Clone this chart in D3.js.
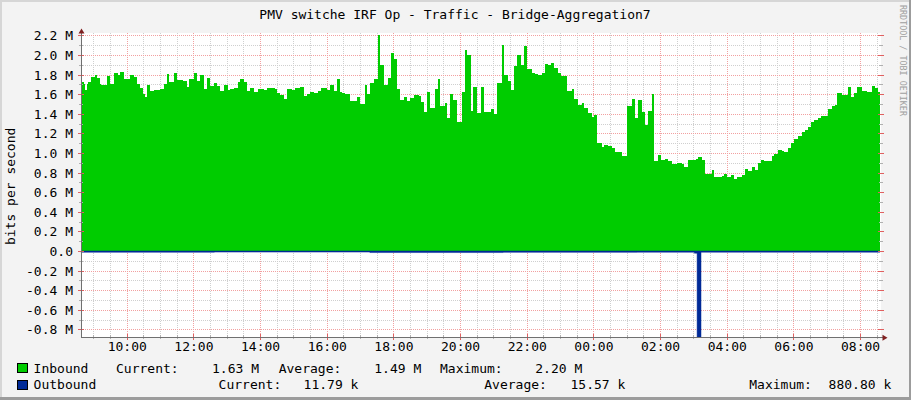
<!DOCTYPE html>
<html>
<head>
<meta charset="utf-8">
<script src="https://cdn.jsdelivr.net/npm/d3@7"></script>
<style>
  html, body { margin: 0; padding: 0; background: #f3f3f3; }
  svg { display: block; }
  text { font-family: "DejaVu Sans Mono", monospace; font-size: 13px; fill: #000; }
</style>
</head>
<body>
<svg id="chart" width="911" height="400"></svg>
<script>
const TITLE = "PMV switche IRF Op - Traffic - Bridge-Aggregation7";
const Y_LABEL = "bits per second";
const WATERMARK = "RRDTOOL / TOBI OETIKER";
const START = new Date(2024, 0, 1, 8, 37, 40);

// inbound, Mbit/s, minutes after START (step values)
const inTimes = [0, 5, 7, 10, 13, 18, 25, 29, 34, 36, 47, 52, 60, 66, 71, 77, 80, 88, 95, 101,
  106, 112, 116, 119, 124, 131, 142, 149, 154, 159, 168, 172, 184, 190, 195, 204, 208, 215, 222, 226,
  232, 239, 245, 251, 258, 264, 268, 276, 282, 287, 294, 299, 304, 312, 319, 330, 335, 349, 353, 359,
  365, 371, 379, 385, 394, 402, 407, 413, 420, 426, 432, 443, 449, 455, 461, 466, 469, 476, 484, 497,
  502, 511, 515, 521, 528, 534, 539, 546, 553, 558, 563, 569, 575, 582, 587, 592, 600, 608, 612, 618,
  623, 628, 637, 643, 647, 655, 659, 665, 670, 676, 685, 691, 695, 702, 706, 712, 720, 726, 738, 743,
  748, 757, 761, 768, 774, 780, 785, 792, 798, 803, 811, 817, 822, 829, 835, 841, 846, 852, 858, 864,
  875, 883, 887, 894, 901, 906, 913, 919, 923, 929, 937, 942, 948, 955, 961, 973, 983, 991, 997, 1002,
  1009, 1015, 1020, 1027, 1032, 1038, 1044, 1051, 1056, 1063, 1073, 1081, 1086, 1092, 1107, 1111, 1117, 1123, 1135, 1140,
  1153, 1158, 1163, 1170, 1176, 1180, 1189, 1195, 1201, 1207, 1213, 1218, 1224, 1230, 1243, 1248, 1254, 1261, 1266, 1272,
  1278, 1284, 1290, 1297, 1303, 1308, 1314, 1320, 1326, 1332, 1344, 1351, 1357, 1361, 1369, 1380, 1386, 1391, 1397, 1405,
  1414, 1423, 1429, 1434, 1438];
const inValues = [1.72, 1.70, 1.64, 1.70, 1.72, 1.78, 1.80, 1.77, 1.70, 1.69, 1.79, 1.70, 1.82, 1.80, 1.83, 1.76, 1.75, 1.80, 1.78, 1.70,
  1.66, 1.60, 1.57, 1.69, 1.63, 1.64, 1.65, 1.70, 1.81, 1.72, 1.82, 1.74, 1.73, 1.67, 1.75, 1.82, 1.73, 1.80, 1.65, 1.77,
  1.68, 1.71, 1.68, 1.63, 1.69, 1.64, 1.65, 1.66, 1.72, 1.75, 1.72, 1.63, 1.66, 1.62, 1.65, 1.64, 1.66, 1.65, 1.61, 1.59,
  1.55, 1.65, 1.64, 1.66, 1.67, 1.58, 1.60, 1.62, 1.61, 1.63, 1.66, 1.64, 1.69, 1.63, 1.75, 1.62, 1.61, 1.60, 1.53, 1.57,
  1.50, 1.69, 1.60, 1.71, 1.75, 2.20, 1.90, 1.69, 1.77, 2.02, 1.96, 1.65, 1.54, 1.57, 1.53, 1.56, 1.59, 1.58, 1.52, 1.42,
  1.62, 1.46, 1.65, 1.75, 1.48, 1.51, 1.36, 1.60, 1.54, 1.32, 1.62, 2.05, 2.00, 1.43, 1.67, 1.41, 1.67, 1.42, 1.45, 1.40,
  1.71, 2.10, 1.80, 1.73, 1.64, 1.89, 2.00, 1.90, 2.09, 1.86, 1.82, 1.81, 1.80, 1.82, 1.91, 1.90, 1.92, 1.87, 1.82, 1.79,
  1.63, 1.65, 1.55, 1.49, 1.51, 1.46, 1.41, 1.37, 1.39, 1.10, 1.06, 1.08, 1.07, 1.05, 1.01, 0.97, 1.48, 1.55, 1.36, 1.54,
  1.42, 1.29, 1.43, 1.60, 0.92, 0.98, 0.93, 0.94, 0.92, 0.89, 0.90, 0.89, 0.86, 0.93, 0.94, 0.96, 0.93, 0.79, 0.83, 0.75,
  0.77, 0.79, 0.75, 0.78, 0.73, 0.75, 0.78, 0.84, 0.82, 0.86, 0.83, 0.90, 0.93, 0.92, 0.97, 0.99, 1.03, 1.02, 1.01, 1.05,
  1.10, 1.14, 1.17, 1.21, 1.23, 1.27, 1.32, 1.34, 1.36, 1.38, 1.45, 1.48, 1.49, 1.61, 1.59, 1.67, 1.57, 1.61, 1.67, 1.63,
  1.62, 1.68, 1.66, 1.62, 1.62];

// outbound, Mbit/s (drawn below zero)
const outTimes = [0, 240, 520, 760, 1000, 1104, 1109, 1116, 1300, 1438];
const outValues = [0.013, 0.011, 0.016, 0.014, 0.012, 0.022, 0.8808, 0.012, 0.012, 0.012];

const yTicks = [-0.8, -0.6, -0.4, -0.2, 0, 0.2, 0.4, 0.6, 0.8, 1.0, 1.2, 1.4, 1.6, 1.8, 2.0, 2.2];
const yTickLabels = ["-0.8 M", "-0.6 M", "-0.4 M", "-0.2 M", "0.0", "0.2 M", "0.4 M", "0.6 M", "0.8 M",
  "1.0 M", "1.2 M", "1.4 M", "1.6 M", "1.8 M", "2.0 M", "2.2 M"];
const xTickLabels = ["10:00", "12:00", "14:00", "16:00", "18:00", "20:00", "22:00", "00:00", "02:00", "04:00", "06:00", "08:00"];

const legendNames = ["Inbound", "Outbound"];
const legendColors = ["#00CC00", "#002A97"];
const legendCurrent = ["1.63 M", "11.79 k"];
const legendAverage = ["1.49 M", "15.57 k"];
const legendMaximum = ["2.20 M", "880.80 k"];

const svg = d3.select("#chart");
const W = 911, H = 400;
const plotLeft = 81, plotRight = 881, plotTop = 35.4, plotBottom = 337.3;

const x = d3.scaleTime()
  .domain([START, new Date(+START + 24 * 3600 * 1000)])
  .range([plotLeft, plotRight]);
const y = d3.scaleLinear().domain([-0.8808, 2.2]).range([plotBottom, plotTop]);

const at = (m) => new Date(+START + m * 60000);

// frame
svg.append("rect").attr("width", W).attr("height", H).attr("fill", "#f3f3f3");
svg.append("path").attr("d", `M0,0H${W}V2H2V${H}H0Z`).attr("fill", "#d6d6d6");
svg.append("path").attr("d", `M${W},${H}H0V${H - 3}H${W - 2}V0H${W}Z`).attr("fill", "#9c9c9c");

// canvas
svg.append("rect")
  .attr("x", plotLeft).attr("y", 33)
  .attr("width", plotRight - plotLeft).attr("height", plotBottom - 33)
  .attr("fill", "#ffffff");

// grid
const minorY = d3.range(-8, 23).map((i) => i / 10).filter((v) => Math.abs(Math.round(v * 10)) % 2 === 1);
const minorX = x.ticks(d3.timeMinute.every(30));
const majorX = x.ticks(d3.timeHour.every(2));

const grid = svg.append("g").attr("shape-rendering", "crispEdges");
grid.selectAll(".gy").data(minorY).enter().append("line")
  .attr("x1", plotLeft).attr("x2", plotRight)
  .attr("y1", (d) => Math.round(y(d)) + 0.5).attr("y2", (d) => Math.round(y(d)) + 0.5)
  .attr("stroke", "#cfcfcf").attr("stroke-dasharray", "1,1");
grid.selectAll(".gx").data(minorX).enter().append("line")
  .attr("y1", 33).attr("y2", plotBottom)
  .attr("x1", (d) => Math.round(x(d)) + 0.5).attr("x2", (d) => Math.round(x(d)) + 0.5)
  .attr("stroke", "#cfcfcf").attr("stroke-dasharray", "1,1");
grid.selectAll(".my").data(yTicks).enter().append("line")
  .attr("x1", plotLeft).attr("x2", plotRight)
  .attr("y1", (d) => Math.round(y(d)) + 0.5).attr("y2", (d) => Math.round(y(d)) + 0.5)
  .attr("stroke", "#f2a0a0").attr("stroke-dasharray", "1,1");
grid.selectAll(".mx").data(majorX).enter().append("line")
  .attr("y1", 33).attr("y2", plotBottom)
  .attr("x1", (d) => Math.round(x(d)) + 0.5).attr("x2", (d) => Math.round(x(d)) + 0.5)
  .attr("stroke", "#f2a0a0").attr("stroke-dasharray", "1,1");

// series
const inPoints = inTimes.map((t, i) => [at(t), inValues[i]]);
const outPoints = outTimes.map((t, i) => [at(t), outValues[i]]);

const inArea = d3.area()
  .x((d) => x(d[0]))
  .y0(y(0))
  .y1((d) => y(d[1]))
  .curve(d3.curveStepAfter);

const outArea = d3.area()
  .x((d) => x(d[0]))
  .y0(y(0))
  .y1((d) => y(-d[1]))
  .curve(d3.curveStepAfter);

svg.append("path").datum(inPoints)
  .attr("d", inArea)
  .attr("fill", legendColors[0])
  .attr("shape-rendering", "crispEdges");

// small outbound values are still at least one pixel, like rrdtool draws them
svg.append("path").datum(outPoints)
  .attr("d", outArea)
  .attr("fill", legendColors[1])
  .attr("stroke", legendColors[1])
  .attr("stroke-width", 0.5);

// axis ticks
const ticks = svg.append("g").attr("shape-rendering", "crispEdges");
ticks.selectAll(".ty").data(minorY).enter().append("path")
  .attr("d", (d) => {
    const yy = Math.round(y(d)) + 0.5;
    return `M${plotLeft - 2},${yy}H${plotLeft + 2}M${plotRight - 2},${yy}H${plotRight + 2}`;
  })
  .attr("stroke", "#b0b0b0");
ticks.selectAll(".tY").data(yTicks).enter().append("path")
  .attr("d", (d) => {
    const yy = Math.round(y(d)) + 0.5;
    return `M${plotLeft - 3},${yy}H${plotLeft + 3}M${plotRight - 3},${yy}H${plotRight + 3}`;
  })
  .attr("stroke", "#e06060");
ticks.selectAll(".tx").data(minorX).enter().append("path")
  .attr("d", (d) => `M${Math.round(x(d)) + 0.5},${plotBottom - 2}V${plotBottom + 2}`)
  .attr("stroke", "#b0b0b0");
ticks.selectAll(".tX").data(majorX).enter().append("path")
  .attr("d", (d) => `M${Math.round(x(d)) + 0.5},${plotBottom - 3}V${plotBottom + 3}`)
  .attr("stroke", "#e06060");

// axes with arrows
const axisG = svg.append("g").attr("shape-rendering", "crispEdges");
axisG.append("path")
  .attr("d", `M${plotLeft + 0.5},${plotBottom + 0.5}V31M${plotLeft},${Math.round(plotBottom) + 0.5}H884`)
  .attr("stroke", "#707070").attr("fill", "none");
svg.append("path")
  .attr("d", `M${plotLeft - 2.5},33.5L${plotLeft + 0.5},28.5L${plotLeft + 3.5},33.5Z`)
  .attr("fill", "#7f1f1f");
svg.append("path")
  .attr("d", `M882.5,${plotBottom - 2.5}L887.5,${plotBottom + 0.5}L882.5,${plotBottom + 3.5}Z`)
  .attr("fill", "#7f1f1f");

// tick labels
svg.selectAll(".ylab").data(yTicks).enter().append("text")
  .attr("x", 73)
  .attr("y", (d) => y(d) + 5)
  .attr("text-anchor", "end")
  .text((d, i) => yTickLabels[i]);

svg.selectAll(".xlab").data(majorX).enter().append("text")
  .attr("x", (d) => x(d) + 0.5)
  .attr("y", 351)
  .attr("text-anchor", "middle")
  .text((d, i) => xTickLabels[i]);

// title and side labels
svg.append("text").attr("x", 455).attr("y", 19)
  .attr("text-anchor", "middle").text(TITLE);

svg.append("text")
  .attr("transform", `translate(15,${(plotTop + plotBottom) / 2}) rotate(-90)`)
  .attr("text-anchor", "middle")
  .text(Y_LABEL);

svg.append("text")
  .attr("transform", "translate(899.5,5) rotate(90)")
  .style("font-size", "8.4px")
  .style("fill", "#a0a0a0")
  .text(WATERMARK);

// legend
const legendRows = [
  { y: 372.5, cols: [116, 212, 278.7, 374.3, 440, 535.3] },
  { y: 389, cols: [218.6, 303.6, 484.3, 570.5, 749.3, 828.6] }
];
legendRows.forEach((row, i) => {
  svg.append("rect")
    .attr("x", 17.5).attr("y", row.y - 9)
    .attr("width", 10).attr("height", 9)
    .attr("fill", legendColors[i])
    .attr("stroke", "#000").attr("stroke-width", 1)
    .attr("shape-rendering", "crispEdges");
  const parts = [legendNames[i], "Current:", legendCurrent[i], "Average:", legendAverage[i], "Maximum:", legendMaximum[i]];
  const xs = [33.6].concat(row.cols);
  parts.forEach((p, j) => {
    svg.append("text").attr("x", xs[j]).attr("y", row.y).text(p);
  });
});
</script>
</body>
</html>
